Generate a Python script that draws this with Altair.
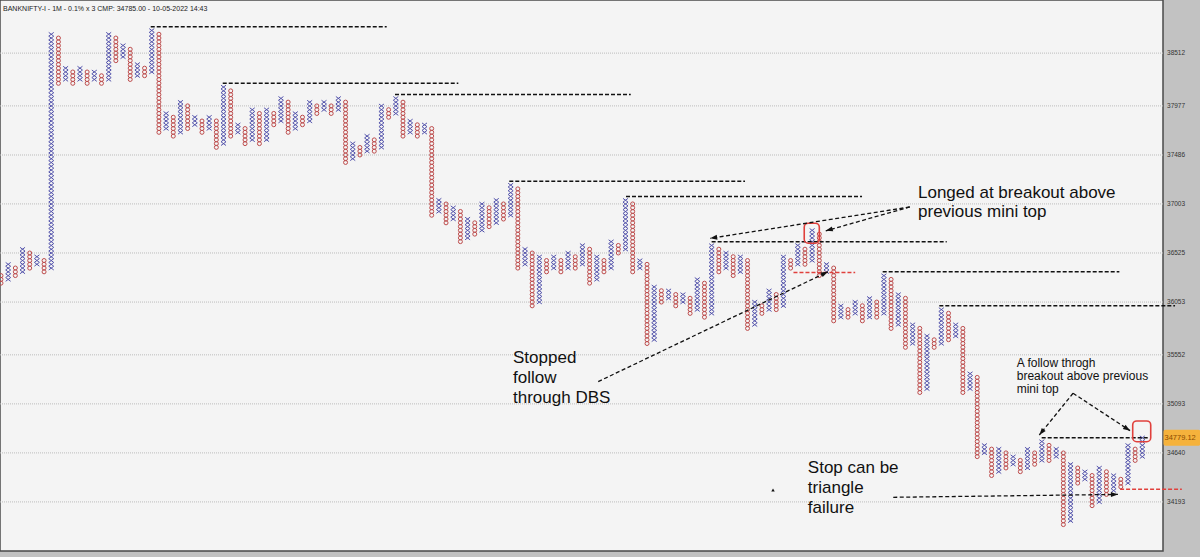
import math
import altair as alt
import pandas as pd

TITLE = "BANKNIFTY-I - 1M - 0.1% x 3 CMP: 34785.00 - 10-05-2022 14:43"
BOX_PCT = 0.1
LAST_PRICE = 34779.12

# Point & figure columns (alternating O / X), low and high box prices
col_type = list("OX" * 80)
col_low = [36234, 36270, 36307, 36343, 36379, 36416, 36343, 36379, 38205, 38244,
           38205, 38244, 38205, 38244, 38205, 38244, 38435, 38474, 38244, 38282,
           38282, 38320, 37712, 37750, 37674, 37712, 37750, 37788, 37712, 37750,
           37562, 37599, 37674, 37712, 37599, 37637, 37599, 37637, 37788, 37825,
           37712, 37750, 37788, 37825, 37901, 37939, 37901, 37939, 37412, 37449,
           37486, 37524, 37524, 37562, 37863, 37901, 37674, 37712, 37674, 37712,
           36892, 36929, 36818, 36855, 36635, 36671, 36708, 36745, 36781, 36818,
           36855, 36892, 36379, 36416, 36017, 36053, 36343, 36379, 36343, 36379,
           36379, 36416, 36234, 36270, 36343, 36379, 36525, 36561, 36343, 36379,
           35659, 35695, 36053, 36089, 36017, 36053, 35945, 35981, 35909, 35945,
           36343, 36379, 36307, 36343, 35802, 35838, 35945, 35981, 35981, 36017,
           36379, 36416, 36416, 36452, 36307, 36343, 35874, 35909, 35909, 35945,
           35874, 35909, 35909, 35945, 35802, 35838, 35623, 35659, 35199, 35234,
           35623, 35659, 35695, 35730, 35199, 35234, 34606, 34640, 34433, 34468,
           34502, 34536, 34468, 34502, 34536, 34571, 34571, 34606, 33988, 34022,
           34364, 34399, 34159, 34193, 34261, 34296, 34330, 34364, 34571, 34606]
col_high = [36307, 36416, 36379, 36561, 36525, 36488, 36452, 38705, 38666, 38358,
            38320, 38358, 38320, 38320, 38282, 38705, 38666, 38589, 38551, 38397,
            38358, 38744, 38705, 37901, 37863, 38015, 37977, 37863, 37825, 37863,
            37825, 38167, 38129, 37788, 37750, 37939, 37901, 37939, 37901, 38053,
            38015, 37901, 37863, 38015, 37977, 38015, 37977, 38053, 38015, 37599,
            37562, 37674, 37637, 37977, 37939, 38053, 38015, 37825, 37788, 37788,
            37750, 37040, 37003, 36966, 36929, 36855, 36818, 37003, 36966, 37040,
            37003, 37188, 37151, 36561, 36525, 36488, 36452, 36488, 36452, 36525,
            36488, 36598, 36561, 36488, 36452, 36635, 36598, 37040, 37003, 36452,
            36416, 36198, 36162, 36162, 36126, 36126, 36089, 36270, 36234, 36598,
            36561, 36525, 36488, 36488, 36452, 36053, 36017, 36162, 36126, 36488,
            36452, 36598, 36561, 36745, 36708, 36416, 36379, 36017, 35981, 36053,
            36017, 36089, 36053, 36307, 36270, 36126, 36089, 35838, 35802, 35730,
            35695, 35981, 35945, 35838, 35802, 35375, 35340, 34709, 34675, 34675,
            34640, 34606, 34571, 34675, 34640, 34744, 34709, 34675, 34640, 34536,
            34502, 34468, 34433, 34502, 34468, 34433, 34399, 34709, 34675, 34779]

axis_labels = [34193, 34640, 35093, 35552, 36053, 36525, 37003, 37486, 37977, 38512]

# black dashed resistance lines: level, start column, end column
res_level = [38783, 38205, 38091, 37225, 37077, 36635, 36343, 36017, 34779]
res_start = [20.86, 30.89, 54.89, 70.81, 87.07, 99.0, 122.83, 130.72, 144.98]
res_end = [53.73, 63.71, 87.73, 103.65, 119.95, 131.75, 155.8, 163.56, 159.84]

# red dashed stop lines
stop_level = [36336, 34308]
stop_start = [110.4, 155.9]
stop_end = [119.0, 164.5]

# red rounded highlight boxes
hl_col1 = [111.9, 157.66]
hl_col2 = [114.0, 160.17]
hl_lo = [36620, 34743]
hl_hi = [36814, 34934]

# annotation arrows (start -> tip)
arr_col1 = [126.6, 126.6, 83.2, 124.3, 149.35, 149.35]
arr_p1 = [36973, 36973, 35301, 34235, 35192, 35192]
arr_col2 = [98.8, 114.9, 115.2, 155.6, 144.65, 157.29]
arr_p2 = [36667, 36740, 36343, 34261, 34805, 34845]

# annotation texts
note_text = ["Longed at breakout above", "previous mini top",
             "Stopped", "follow", "through DBS",
             "Stop can be", "triangle", "failure"]
note_col = [127.75, 127.75, 71.33, 71.33, 71.33, 112.4, 112.4, 112.4]
note_price = [37058, 36879, 35474, 35287, 35100, 34456, 34274, 34093]

small_text = ["A follow throgh", "breakout above previous", "mini top"]
small_col = [141.5, 141.5, 141.5]
small_price = [35440, 35316, 35192]

W, H = 1163, 551
X_DOM = [-0.1393, 161.88]
Y_DOM = [33751, 39058]

xs = alt.Scale(domain=X_DOM, nice=False, zero=False)
ys = alt.Scale(type="log", domain=Y_DOM, nice=False)
FONT = "Liberation Sans"


def px(c):
    return (c - X_DOM[0]) / (X_DOM[1] - X_DOM[0]) * W


def py(p):
    return H - (math.log(p) - math.log(Y_DOM[0])) / (math.log(Y_DOM[1]) - math.log(Y_DOM[0])) * H


step = 1 + BOX_PCT / 100
rows = []
for i, (t, lo, hi) in enumerate(zip(col_type, col_low, col_high)):
    n = round(math.log(hi / lo) / math.log(step))
    for j in range(n + 1):
        rows.append({"col": i, "price": lo * step ** j, "kind": t})
boxes = pd.DataFrame(rows)


def X(f="col"):
    return alt.X(f"{f}:Q", scale=xs, axis=None)


def Y(f="price"):
    return alt.Y(f"{f}:Q", scale=ys, axis=None)


# gridlines and right-hand price labels
grid_df = pd.DataFrame({"price": axis_labels, "col": [X_DOM[0]] * len(axis_labels),
                        "col2": [X_DOM[1]] * len(axis_labels),
                        "lab_col": [162.44] * len(axis_labels),
                        "text": [str(v) for v in axis_labels]})
grid_layer = alt.Chart(grid_df).mark_rule(color="#bcbcbc", strokeWidth=1, strokeDash=[1, 1]).encode(
    x=X(), x2="col2:Q", y=Y())
label_layer = alt.Chart(grid_df).mark_text(
    align="left", baseline="middle", font=FONT, fontSize=6.5, color="#333"
).encode(x=X("lab_col"), y=Y(), text="text:N")

base_boxes = alt.Chart(boxes)
xs_layer = base_boxes.transform_filter(alt.datum.kind == "X").mark_point(
    shape="M-1,-0.75L1,0.75M-1,0.75L1,-0.75", filled=False, size=25,
    stroke="#5454ac", strokeWidth=1, opacity=1
).encode(x=X(), y=Y())
os_layer = base_boxes.transform_filter(alt.datum.kind == "O").mark_point(
    shape="circle", filled=False, size=16, stroke="#bd4b4b", strokeWidth=1, opacity=1
).encode(x=X(), y=Y())

res_df = pd.DataFrame({"price": res_level, "col": res_start, "col2": res_end})
res_layer = alt.Chart(res_df).mark_rule(color="#111", strokeWidth=1.5, strokeDash=[4, 2]).encode(
    x=X(), x2="col2:Q", y=Y())

stop_df = pd.DataFrame({"price": stop_level, "col": stop_start, "col2": stop_end})
stop_layer = alt.Chart(stop_df).mark_rule(color="#e0403c", strokeWidth=1.5, strokeDash=[4, 2]).encode(
    x=X(), x2="col2:Q", y=Y())

hl_df = pd.DataFrame({"col": hl_col1, "col2": hl_col2, "price": hl_lo, "price2": hl_hi})
hl_layer = alt.Chart(hl_df).mark_rect(fillOpacity=0, stroke="#e0403c", strokeWidth=1.6,
                                      cornerRadius=4).encode(
    x=X(), x2="col2:Q", y=Y(), y2="price2:Q")

arr_df = pd.DataFrame({"col": arr_col1, "price": arr_p1, "col2": arr_col2, "price2": arr_p2})
arr_layer = alt.Chart(arr_df).mark_rule(color="#111", strokeWidth=1.3, strokeDash=[4, 2.5]).encode(
    x=X(), y=Y(), x2="col2:Q", y2="price2:Q")

angles = []
for c1, p1, c2, p2 in zip(arr_col1, arr_p1, arr_col2, arr_p2):
    dx = px(c2) - px(c1)
    dy = py(p2) - py(p1)
    angles.append(math.degrees(math.atan2(dx, -dy)) % 360)
head_df = pd.DataFrame({"col": arr_col2, "price": arr_p2, "angle": angles})
head_layer = alt.Chart(head_df).mark_point(
    shape="M0,0L0.5,1.4L-0.5,1.4Z", filled=True, size=100, color="#111", opacity=1
).encode(x=X(), y=Y(), angle=alt.Angle("angle:Q", scale=None))

note_df = pd.DataFrame({"col": note_col, "price": note_price, "text": note_text})
note_layer = alt.Chart(note_df).mark_text(
    align="left", baseline="alphabetic", font=FONT, fontSize=17, color="#111"
).encode(x=X(), y=Y(), text="text:N")

small_df = pd.DataFrame({"col": small_col, "price": small_price, "text": small_text})
small_layer = alt.Chart(small_df).mark_text(
    align="left", baseline="alphabetic", font=FONT, fontSize=12, color="#111"
).encode(x=X(), y=Y(), text="text:N")

title_df = pd.DataFrame({"col": [0.28], "price": [38946], "text": [TITLE]})
title_layer = alt.Chart(title_df).mark_text(
    align="left", baseline="alphabetic", font=FONT, fontSize=7, color="#222"
).encode(x=X(), y=Y(), text="text:N")

marker_df = pd.DataFrame({"col": [107.55], "price": [34301]})
marker_layer = alt.Chart(marker_df).mark_point(shape="triangle-up", filled=True, size=12,
                                               color="#111", opacity=1).encode(x=X(), y=Y())

tag_df = pd.DataFrame({"col": [161.95], "col2": [167.1], "price": [LAST_PRICE],
                       "lo": [LAST_PRICE / step ** 2.1], "hi": [LAST_PRICE * step ** 2.1],
                       "text": [f"{LAST_PRICE:.2f}"]})
tag_rect = alt.Chart(tag_df).mark_rect(fill="#f5b23c", cornerRadius=2).encode(
    x=X(), x2="col2:Q", y=Y("lo"), y2="hi:Q")
tag_text = alt.Chart(tag_df).mark_text(align="left", baseline="middle", font=FONT,
                                       fontSize=7.5, color="#8a4a00", dx=1).encode(
    x=X(), y=Y(), text="text:N")

chart = alt.layer(
    grid_layer, label_layer, xs_layer, os_layer, res_layer, stop_layer, hl_layer,
    arr_layer, head_layer, note_layer, small_layer, title_layer, marker_layer,
    tag_rect, tag_text
).properties(
    width=W, height=H,
    padding={"left": 0, "top": 0, "right": 37, "bottom": 6},
    autosize=alt.AutoSizeParams(type="none"),
    background="#c2c2c2",
).configure_view(fill="#f4f4f4", stroke="#4a4a4a", strokeWidth=1.5)

chart.save("out.html", embed_options={"renderer": "svg", "actions": False})
